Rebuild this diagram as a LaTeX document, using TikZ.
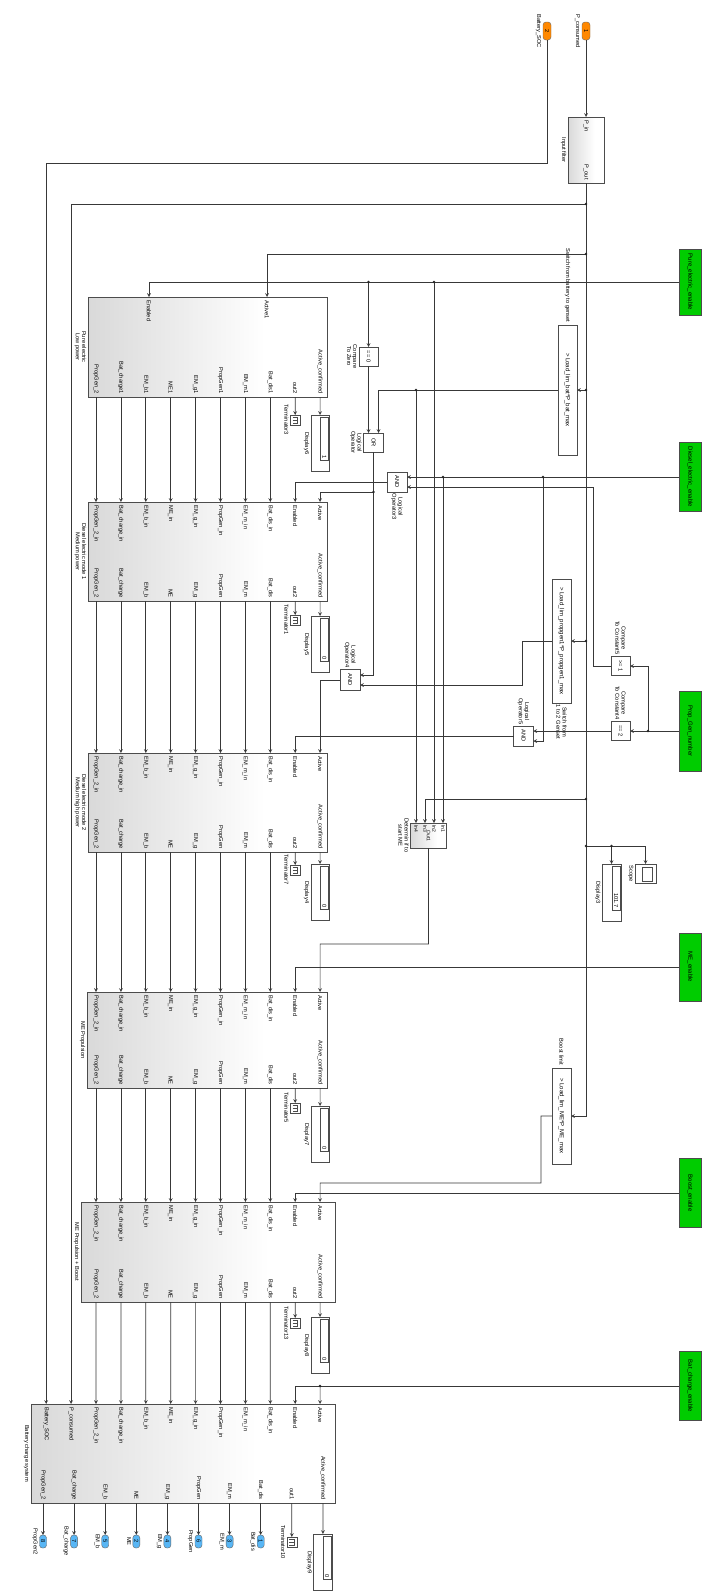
\documentclass[tikz,border=0pt]{standalone}
\usepackage{fontspec}
\setmainfont{Liberation Sans}
\usetikzlibrary{calc}
\definecolor{simgreen}{RGB}{0,204,0}
\definecolor{simorange}{RGB}{255,136,0}
\definecolor{simblue}{RGB}{88,182,245}
\pgfdeclarehorizontalshading{simgrad}{100bp}{color(0bp)=(black!25); color(62bp)=(white); color(100bp)=(white)}

\begin{document}
\begin{tikzpicture}[x=1pt, y=-1pt, >=stealth]
    % --- Styles ---
    \tikzset{
        sig/.style={black!78, line width=0.7pt},
        junc/.style={circle, fill=black!85, inner sep=0pt, minimum size=2.8pt},
        txt/.style={font=\fontsize{5.7}{6.1}\selectfont, inner sep=0.6pt, rotate=-90, align=center},
        bigtxt/.style={txt, font=\fontsize{6}{6.5}\selectfont},
        subsys/.style={draw=black!70, line width=0.7pt, shade, shading=simgrad, inner sep=0pt, outer sep=0pt},
        plain/.style={draw=black!70, line width=0.6pt, fill=white, inner sep=0pt, outer sep=0pt},
        enablebox/.style={draw=black!70, line width=0.6pt, fill=simgreen, minimum width=22pt, inner sep=0pt, outer sep=0pt},
        inport/.style={draw=black!60, fill=simorange, rounded corners=3pt, minimum width=8pt, minimum height=18pt, inner sep=0pt, outer sep=0pt},
        outport/.style={draw=black!60, fill=simblue, rounded corners=3pt, minimum width=7pt, minimum height=13pt, inner sep=0pt, outer sep=0pt},
        icon/.style={black!70, line width=0.5pt}
    }

    \useasboundingbox (0,0) rectangle (703,1593);
    \fill[white] (0,0) rectangle (703,1593);

    % =====================================================================
    % INPORTS + INPUT FILTER
    % =====================================================================
    \node[inport, label={[txt]center:1}] (inP) at (586,31) {};
    \node[txt, anchor=north] (inP-l) at ([xshift=-1pt]inP.west) {P\_consumed};
    \node[inport, label={[txt]center:2}] (inSOC) at (547,31) {};
    \node[txt, anchor=north] (inSOC-l) at ([xshift=-1pt]inSOC.west) {Battery\_SOC};

    \node[subsys, minimum width=36pt, minimum height=66pt] (inFilt) at (586,150) {};
    \node[txt, anchor=west] (inFilt-i) at ([yshift=-2.5pt]inFilt.north) {P\_in};
    \node[txt, anchor=east] (inFilt-o) at ([yshift=2.5pt]inFilt.south) {P\_out};
    \node[txt, anchor=north] (inFilt-l) at ([xshift=-1pt]inFilt.west) {Input filter};

    % =====================================================================
    % ENABLE SIGNALS (green)
    % =====================================================================
    \node[enablebox, minimum height=66pt, label={[bigtxt]center:Pure\_electric\_enable}] (pureEn) at (690,282) {};
    \node[enablebox, minimum height=69pt, label={[bigtxt]center:Diesel\_electric\_enable}] (dieselEn) at (690,477) {};
    \node[enablebox, minimum height=80pt, label={[bigtxt]center:Prop\_Gen\_number}] (propGen) at (690,731) {};
    \node[enablebox, minimum height=68pt, label={[bigtxt]center:ME\_enable}] (meEn) at (690,967) {};
    \node[enablebox, minimum height=69pt, label={[bigtxt]center:Boost\_enable}] (boostEn) at (690,1193) {};
    \node[enablebox, minimum height=69pt, label={[bigtxt]center:Bat\_charge\_enable}] (batEn) at (690,1386) {};

    % =====================================================================
    % MODE BLOCKS
    % =====================================================================
    \node[subsys, minimum width=239pt, minimum height=100pt] (pureEl) at (207.5,347) {};
    \node[subsys, minimum width=239pt, minimum height=99pt] (diesel1) at (207.5,551.5) {};
    \node[subsys, minimum width=239pt, minimum height=99pt] (diesel2) at (207.5,802.5) {};
    \node[subsys, minimum width=240pt, minimum height=96pt] (mePro) at (207,1040) {};
    \node[subsys, minimum width=254pt, minimum height=100pt] (meBoost) at (208,1252) {};
    \node[subsys, minimum width=304pt, minimum height=99pt] (batChg) at (183,1453.5) {};

    % Noms des blocs
    \foreach \b/\t in {pureEl/{Pure electric\\Low power}, diesel1/{Diesel electric mode 1\\Medium power},
                       diesel2/{Diesel electric mode 2\\Medium high power}, mePro/{ME Propulsion},
                       meBoost/{ME Propulsion + Boost}, batChg/{Battery charge system}} {
        \node[txt, anchor=north] (\b-name) at ([xshift=-1pt]\b.west) {\t};
    }

    % Ports
    \foreach \b/\ytop/\ybot in {pureEl/297/397, diesel1/502/601, diesel2/753/852, mePro/992/1088, meBoost/1202/1302} {
        \foreach \k in {0,...,9} {
            \coordinate (\b-i\k) at ({96+24.9*\k},\ytop);
            \coordinate (\b-o\k) at ({96+24.9*\k},\ybot);
        }
    }
    \coordinate (pureEl-en) at (149,297);
    \coordinate (pureEl-ac) at (267,297);
    \foreach \k in {0,...,11} \coordinate (batChg-i\k) at ({46.2+24.9*\k},1404);
    \foreach \k in {0,...,9} \coordinate (batChg-o\k) at ({43+31.1*\k},1503);

    % Port labels
    \node[txt, anchor=west] (pureEl-enl) at ([yshift=-2.5pt]pureEl-en) {Enabled};
    \node[txt, anchor=west] (pureEl-acl) at ([yshift=-2.5pt]pureEl-ac) {Active1};
    \foreach \k/\t in {0/PropGen\_2, 1/Bat\_charge1, 2/EM\_b1, 3/ME1, 4/EM\_g1, 5/PropGen1, 6/EM\_m1, 7/Bat\_dis1, 8/out2, 9/Active\_confirmed} {
        \node[txt, anchor=east] (pureEl-ol\k) at ([yshift=2.5pt]pureEl-o\k) {\t};
    }
    \foreach \b in {diesel1, diesel2, mePro, meBoost} {
        \foreach \k/\t in {0/PropGen\_2\_in, 1/Bat\_charge\_in, 2/EM\_b\_in, 3/ME\_in, 4/EM\_g\_in, 5/PropGen\_in, 6/EM\_m\_in, 7/Bat\_dis\_in, 8/Enabled, 9/Active} {
            \node[txt, anchor=west] (\b-il\k) at ([yshift=-2.5pt]\b-i\k) {\t};
        }
        \foreach \k/\t in {0/PropGen\_2, 1/Bat\_charge, 2/EM\_b, 3/ME, 4/EM\_g, 5/PropGen, 6/EM\_m, 7/Bat\_dis, 8/out2, 9/Active\_confirmed} {
            \node[txt, anchor=east] (\b-ol\k) at ([yshift=2.5pt]\b-o\k) {\t};
        }
    }
    \foreach \k/\t in {0/Battery\_SOC, 1/P\_consumed, 2/PropGen\_2\_in, 3/Bat\_charge\_in, 4/EM\_b\_in, 5/ME\_in, 6/EM\_g\_in, 7/PropGen\_in, 8/EM\_m\_in, 9/Bat\_dis\_in, 10/Enabled, 11/Active} {
        \node[txt, anchor=west] (batChg-il\k) at ([yshift=-2.5pt]batChg-i\k) {\t};
    }
    \foreach \k/\t in {0/PropGen\_2, 1/Bat\_charge, 2/EM\_b, 3/ME, 4/EM\_g, 5/PropGen, 6/EM\_m, 7/Bat\_dis, 8/out1, 9/Active\_confirmed} {
        \node[txt, anchor=east] (batChg-ol\k) at ([yshift=2.5pt]batChg-o\k) {\t};
    }

    % Chainage des blocs
    \foreach \a/\c in {pureEl/diesel1, diesel1/diesel2, diesel2/mePro, mePro/meBoost} {
        \foreach \k in {0,...,7} \draw[sig,->] (\a-o\k) -- (\c-i\k);
    }
    \foreach \k [evaluate=\k as \j using int(\k+2)] in {0,...,7} \draw[sig,->] (meBoost-o\k) -- (batChg-i\j);

    % Terminators + Displays
    \foreach \nm/\x/\yt in {Terminator3/295.2/415, Terminator1/295.2/615, Terminator7/295.2/865, Terminator5/295.2/1103, Terminator13/295.2/1318, Terminator10/291.8/1537} {
        \node[plain, minimum size=10pt, anchor=north] (\nm) at (\x,\yt) {};
        \draw[icon] ([shift={(-2.5,-3)}]\nm.center) -| ([shift={(2,3)}]\nm.center) -- ([shift={(-2.5,3)}]\nm.center)
                    ([shift={(-2.5,0)}]\nm.center) -- ([shift={(2,0)}]\nm.center);
        \node[txt, anchor=north] (\nm-l) at ([xshift=-0.8pt]\nm.west) {\nm};
    }
    \foreach \nm/\x/\yt/\v in {Display6/320.1/415/1, Display5/320.1/616/0, Display4/320.1/864/0, Display7/320.1/1106/0, Display8/320.1/1317/0, Display9/322.9/1534/0} {
        \node[plain, minimum width=18.5pt, minimum height=56.5pt, anchor=north] (\nm) at (\x,\yt) {};
        \draw[icon] ([xshift=0.5pt,yshift=-2pt]\nm.north) rectangle ([xshift=-1.2pt,yshift=11pt]\nm.south east);
        \node[txt, anchor=east] (\nm-v) at ([xshift=-5pt,yshift=12.5pt]\nm.south east) {\v};
        \node[txt, anchor=north] (\nm-l) at ([xshift=-0.8pt]\nm.west) {\nm};
    }
    \foreach \b/\nm/\t in {pureEl/Display6/Terminator3, diesel1/Display5/Terminator1, diesel2/Display4/Terminator7,
                           mePro/Display7/Terminator5, meBoost/Display8/Terminator13, batChg/Display9/Terminator10} {
        \draw[sig,->] (\b-o9) -- (\nm.north);
        \draw[sig,->] (\b-o8) -- (\t.north);
    }

    % Outports
    \foreach \k/\nm/\t in {0/8/PropGen2, 1/7/Bat\_charge, 2/5/EM\_b, 3/2/ME, 4/4/EM\_g, 5/6/PropGen, 6/3/EM\_m, 7/1/Bat\_dis} {
        \node[outport, anchor=north, label={[txt]center:\nm}] (out\nm) at ({43+31.1*\k},1535) {};
        \node[txt, anchor=north] (out\nm-l) at ([xshift=-1pt]out\nm.west) {\t};
        \draw[sig,->] (batChg-o\k) -- (out\nm);
    }

    % =====================================================================
    % LOGIQUE DE SELECTION
    % =====================================================================
    \node[plain, minimum width=19pt, minimum height=130pt, label={[bigtxt]center:> Load\_lim\_bat*P\_bat\_max}] (fcnBat) at (567.5,390) {};
    \node[txt, anchor=east] (fcnBat-l) at ([yshift=2pt]fcnBat.north) {Switch from battery to genset};
    \node[plain, minimum width=19pt, minimum height=124pt, label={[bigtxt]center:> Load\_lim\_propgen1*P\_propgen1\_max}] (fcnPG) at (561.5,641) {};
    \node[txt, anchor=west] (fcnPG-l) at ([yshift=-1pt]fcnPG.south) {Switch from\\1 to 2 Genset};
    \node[plain, minimum width=19pt, minimum height=96pt, label={[bigtxt]center:> Load\_lim\_ME*P\_ME\_max}] (fcnME) at (561.5,1116) {};
    \node[txt, anchor=east] (fcnME-l) at ([yshift=2pt]fcnME.north) {Boost limit};

    \node[plain, minimum size=19pt, label={[txt]center:== 0}] (cmpZero) at (368.5,356.5) {};
    \node[txt, anchor=north] (cmpZero-l) at ([xshift=-1pt]cmpZero.west) {Compare\\To Zero};
    \node[plain, minimum width=20pt, minimum height=19pt, label={[txt]center:OR}] (orOp) at (373.5,442.5) {};
    \node[txt, anchor=north] (orOp-l) at ([xshift=-1pt]orOp.west) {Logical\\Operator};
    \node[plain, minimum size=20pt, label={[txt]center:AND}] (and3) at (397,482) {};
    \node[txt, anchor=west] (and3-l) at ([yshift=-1pt]and3.south) {Logical\\Operator3};
    \node[plain, minimum width=20pt, minimum height=21pt, label={[txt]center:AND}] (and4) at (350,680) {};
    \node[txt, anchor=east] (and4-l) at ([yshift=1pt]and4.north) {Logical\\Operator4};
    \node[plain, minimum width=19.5pt, minimum height=20pt, label={[txt]center:AND}] (and5) at (523.5,736) {};
    \node[txt, anchor=east] (and5-l) at ([yshift=1pt]and5.north) {Logical\\Operator5};
    \node[plain, minimum size=19pt, label={[txt]center:>= 1}] (ctc5) at (620.5,666) {};
    \node[txt, anchor=east] (ctc5-l) at ([yshift=1pt]ctc5.north) {Compare\\To Constant5};
    \node[plain, minimum size=19pt, label={[txt]center:== 2}] (ctc4) at (620.5,731) {};
    \node[txt, anchor=east] (ctc4-l) at ([yshift=1pt]ctc4.north) {Compare\\To Constant4};

    \node[subsys, minimum width=36pt, minimum height=25pt] (determ) at (428.5,835.5) {};
    \node[txt, anchor=north] (determ-l) at ([xshift=-1pt]determ.west) {Determin if to\\start ME};
    \foreach \k/\x in {1/443, 2/434, 3/425, 4/416} {
        \coordinate (determ-i\k) at (\x,823);
        \node[txt, anchor=west, font=\fontsize{5}{5.5}\selectfont] (determ-il\k) at (\x,824.5) {In\k};
    }
    \node[txt, anchor=east, font=\fontsize{5}{5.5}\selectfont] (determ-ol) at ([yshift=6pt]determ.south) {Out1};

    \node[plain, minimum width=19pt, minimum height=57pt, anchor=north] (disp3) at (611.5,864) {};
    \draw[icon] ([xshift=0.5pt,yshift=-2pt]disp3.north) rectangle ([xshift=-1.2pt,yshift=11pt]disp3.south east);
    \node[txt, anchor=east] (disp3-v) at ([xshift=-5pt,yshift=12.5pt]disp3.south east) {101.7};
    \node[txt, anchor=north] (disp3-l) at ([xshift=-0.8pt]disp3.west) {Display3};
    \node[plain, minimum width=21pt, minimum height=19pt, anchor=north] (scope) at (645.5,864) {};
    \draw[icon] ([shift={(-3.5,-6.5)}]scope.center) rectangle ([shift={(6.5,7.5)}]scope.center);
    \node[txt, anchor=north] (scope-l) at ([xshift=-0.8pt]scope.west) {Scope};

    % Points de connexion
    \coordinate (orOp-i1) at ([xshift=-5pt]orOp.north);
    \coordinate (orOp-i2) at ([xshift=5pt]orOp.north);
    \coordinate (and3-i1) at ([yshift=5pt]and3.east);
    \coordinate (and3-i2) at ([yshift=-5pt]and3.east);
    \coordinate (and4-i1) at ([yshift=5pt]and4.east);
    \coordinate (and4-i2) at ([yshift=-5pt]and4.east);
    \coordinate (and5-i1) at ([yshift=5pt]and5.east);
    \coordinate (and5-i2) at ([yshift=-5pt]and5.east);
    \coordinate (j1) at (586,204);
    \coordinate (j2) at (586,254);
    \coordinate (j3) at (586,390);
    \coordinate (j4) at (586,641);
    \coordinate (j5) at (586,799);
    \coordinate (j6) at (586,846);
    \coordinate (j7) at (611.5,846);
    \coordinate (jPE1) at (434,282);
    \coordinate (jPE2) at (368.5,282);
    \coordinate (jB) at (416,390);
    \coordinate (jOR) at (373.5,492);
    \coordinate (jD1) at (443,477);
    \coordinate (jD2) at (543,477);
    \coordinate (jPG) at (648,731);
    \coordinate (jBat) at (320.1,1386);
    \coordinate (socTurn) at (547,163);
    \coordinate (c5bend) at (593,666);
    \coordinate (pgBend) at (522,641);
    \coordinate (dBend) at (320.1,944);
    \coordinate (meBendA) at (541,1116);
    \coordinate (meBendB) at (320.1,1183);

    % --- Connexions ---
    \draw[sig,->] (inP) -- (inFilt);
    \draw[sig,->] (inFilt.south) |- (fcnME.east);
    \draw[sig,->] (inSOC.south) -- (socTurn) -| (batChg-i0);
    \draw[sig,->] (j1) -| (batChg-i1);
    \draw[sig,->] (j2) -| (pureEl-ac);
    \draw[sig,->] (j3) -- (fcnBat.east);
    \draw[sig,->] (j4) -- (fcnPG.east);
    \draw[sig,->] (j5) -| (determ-i3);
    \draw[sig,->] (j6) -| (scope.north);
    \draw[sig,->] (j7) -- (disp3.north);

    \draw[sig,->] (pureEn.west) -| (pureEl-en);
    \draw[sig,->] (jPE2) -- (cmpZero.north);
    \draw[sig,->] (jPE1) -- (determ-i2);
    \draw[sig,->] (fcnBat.west) -| (orOp-i2);
    \draw[sig,->] (jB) -- (determ-i4);
    \draw[sig,->] (cmpZero.south) -- (orOp-i1);
    \draw[sig,->] (orOp.south) |- (and4-i1);
    \draw[sig,->] (jOR) -| (diesel1-i9);

    \draw[sig,->] (dieselEn.west) -- (and3-i1);
    \draw[sig,->] (jD1) -- (determ-i1);
    \draw[sig,->] (jD2) |- (and5-i2);
    \draw[sig,->] (and3.west) -| (diesel1-i8);

    \draw[sig,->] (propGen.west) -- (ctc4.east);
    \draw[sig,->] (jPG) |- (ctc5.east);
    \draw[sig,->] (ctc5.west) -- (c5bend) |- (and3-i2);
    \draw[sig,->] (ctc4.west) -- (and5-i1);
    \draw[sig,->] (and5.west) -| (diesel2-i8);
    \draw[sig,->] (fcnPG.west) -- (pgBend) |- (and4-i2);
    \draw[sig,->] (and4.west) -| (diesel2-i9);

    \draw[sig,->] (determ.south) |- (dBend) -- (mePro-i9);
    \draw[sig,->] (meEn.west) -| (mePro-i8);
    \draw[sig,->] (fcnME.west) -- (meBendA) |- (meBendB) -- (meBoost-i9);
    \draw[sig,->] (boostEn.west) -| (meBoost-i8);
    \draw[sig,->] (batEn.west) -| (batChg-i10);
    \draw[sig,->] (jBat) -- (batChg-i11);

    \foreach \j in {j1,j2,j3,j4,j5,j6,j7,jPE1,jPE2,jB,jOR,jD1,jD2,jPG,jBat} \node[junc] (\j-dot) at (\j) {};

\end{tikzpicture}
\end{document}
